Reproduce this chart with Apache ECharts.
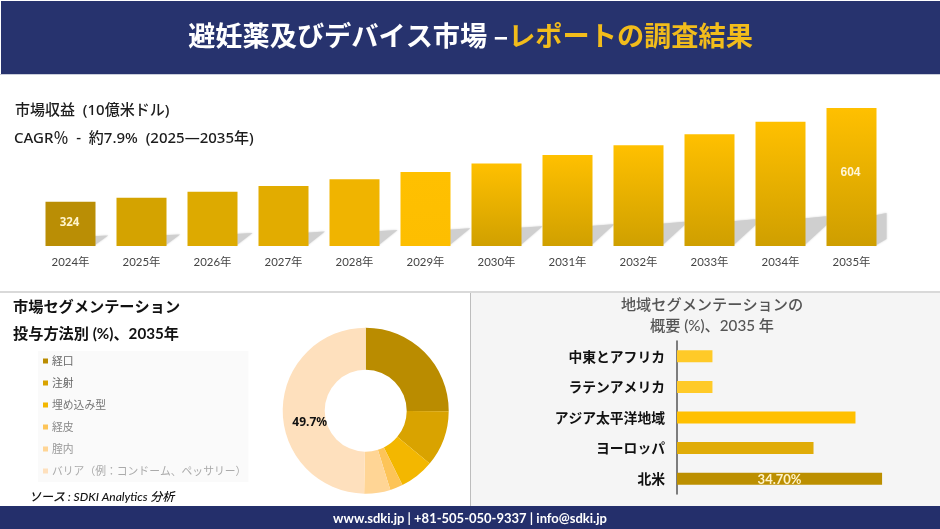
<!DOCTYPE html>
<html><head><meta charset="utf-8">
<style>html,body{margin:0;padding:0;background:#fff}#c{width:940px;height:529px}</style>
<script src="https://cdn.jsdelivr.net/npm/echarts@6/dist/echarts.min.js"></script>
</head><body><div id="c"></div>
<script>
// --- data ---
const years = ['2024年','2025年','2026年','2027年','2028年','2029年','2030年','2031年','2032年','2033年','2034年','2035年'];
const revenue = [324,336,354,371,391,413,438,464,493,526,563,604];
const routes = ['経口','注射','埋め込み型','経皮','腟内','バリア（例：コンドーム、ペッサリー）'];
const routeShare = [25.1,10.9,6.7,2.5,5.1,49.7];
const regions = ['中東とアフリカ','ラテンアメリカ','アジア太平洋地域','ヨーロッパ','北米'];
const regionShare = [6.0,6.0,30.2,23.1,34.7];
// --- styles ---
const barTop = ['#BA8E05','#D4A300','#DDAA00','#E2AC00','#F0B400','#FFC000','#FFC000','#FFC000','#FFC000','#FFC000','#FFC000','#FFC000'];
const barBottom = ['#BA8E05','#D4A300','#DDAA00','#E2AC00','#F0B400','#FDBE00','#D0A000','#D0A000','#CFA000','#CF9F00','#CF9F00','#CE9E00'];
const routeColors = ['#BA8C00','#D9A300','#F3B700','#FDC458','#FFD595','#FEE0BD'];
const routeText = ['#666','#666','#777','#888','#999','#aaa'];
const regionColors = ['#FFCA28','#FFCA28','#FFC000','#E0AC08','#BC8F00'];
const NAVY = '#27336E';
const LAT = 'Lato, "Noto Sans CJK JP", sans-serif';
const JP = '"Noto Sans CJK JP", sans-serif';
const NS = '"Noto Sans", "Noto Sans CJK JP", sans-serif';
const Y_MIN = 192, BAR_W = 50;

const txt = (text,left,top,size,color,weight,extra,family) => Object.assign({
  text,left,top,textStyle:Object.assign({fontFamily:family||LAT,fontSize:size,color,fontWeight:weight,lineHeight:size+6},(extra||{}).ts||{}), padding:0
},extra||{});

const chart = echarts.init(document.getElementById('c'),null,{renderer:'canvas'});
chart.setOption({
  animation:false,
  backgroundColor:'#fff',
  graphic:{elements:[
    {type:'rect',silent:true,shape:{x:1,y:1,width:939,height:73},style:{fill:NAVY}},
    {type:'rect',silent:true,shape:{x:0,y:74,width:940,height:1},style:{fill:'#C9CDDA'}},
    {type:'rect',silent:true,shape:{x:471,y:293,width:469,height:213},style:{fill:'#F5F5F5'}},
    {type:'rect',silent:true,shape:{x:0,y:291,width:940,height:2},style:{fill:'#D9D9D9'}},
    {type:'rect',silent:true,shape:{x:470,y:293,width:1,height:213},style:{fill:'#BDBDBD'}},
    {type:'rect',silent:true,shape:{x:0,y:506,width:940,height:23},style:{fill:'#242F6B'}}
  ]},
  title:[
    {text:'{a|避妊薬及びデバイス市場 –}{b|レポートの調査結果}',left:470.5,top:22,textAlign:'center',padding:0,
     textStyle:{rich:{a:{fontFamily:JP,fontSize:27.2,fontWeight:700,color:'#fff'},b:{fontFamily:JP,fontSize:27.2,fontWeight:700,color:'#F2BC1B'}}}},
    txt('市場収益  (10億米ドル)',15,100,15,'#1c1c1c',500,null,NS),
    txt('CAGR％  -  約7.9%  (2025―2035年)',14,128,15,'#1c1c1c',500,null,NS),
    txt('市場セグメンテーション',13,297,15.2,'#111',700),
    txt('投与方法別 (%)、2035年',13,324,15.2,'#111',700),
    txt('地域セグメンテーションの\n概要 (%)、2035 年',712,295,15.2,'#555',500,{textAlign:'center',ts:{lineHeight:20.6}}),
    txt('ソース : SDKI Analytics 分析',29,488.5,12,'#111',500,{ts:{fontStyle:'italic'}}),
    txt('www.sdki.jp | +81-505-050-9337 | info@sdki.jp',470,509,13,'#fff',700,{textAlign:'center'})
  ],
  legend:{
    orient:'vertical',left:38,top:351,width:211,height:132,
    backgroundColor:'#FAFAFA',padding:[3,2,4,5],
    icon:'rect',itemWidth:5,itemHeight:5,itemGap:8,selectedMode:false,
    textStyle:{fontFamily:JP,fontSize:10.8,lineHeight:14,padding:[0,0,0,-1]},
    data:routes.map((name,i)=>({name,textStyle:{color:routeText[i]}}))
  },
  grid:[
    {left:35,width:852,top:108,height:138},
    {left:677,width:236.4,top:341,height:153}
  ],
  xAxis:[
    {type:'category',gridIndex:0,data:years,axisLine:{show:false},axisTick:{show:false},
     axisLabel:{margin:11,fontFamily:LAT,fontSize:11.4,color:'#444'}},
    {type:'value',gridIndex:1,min:0,max:40,show:false}
  ],
  yAxis:[
    {type:'value',gridIndex:0,min:Y_MIN,max:604,show:false},
    {type:'category',gridIndex:1,inverse:true,data:regions,
     axisLine:{show:true,lineStyle:{color:'#555',width:1.5}},axisTick:{show:false},
     axisLabel:{margin:12,fontFamily:JP,fontSize:13.8,fontWeight:700,color:'#111'}}
  ],
  series:[
    {type:'custom',xAxisIndex:0,yAxisIndex:0,z:1,silent:true,
     data:revenue.map((v,i)=>[i,v]),
     renderItem(params,api){
       const i=api.value(0), top=api.coord([i,api.value(1)]), base=api.coord([i,Y_MIN]);
       const band=api.size([1,0])[0], h=base[1]-top[1];
       const r=top[0]+BAR_W/2, last=i===years.length-1;
       const H=h*0.24, gap=band-BAR_W, d=Math.min(last?10:gap,H+2);
       return {type:'polygon',shape:{points:[
         [r-2,base[1]],[r+d,base[1]-Math.min(d,H)*(last?0.7:1)],[r+d,base[1]-H],[r-2,base[1]-H*0.92]
       ]},style:{fill:'#CFCFCF',shadowBlur:2,shadowColor:'rgba(190,190,190,0.8)'}};
     }},
    {type:'bar',xAxisIndex:0,yAxisIndex:0,z:2,barWidth:BAR_W,
     data:revenue.map((value,i)=>{
       const d={value,itemStyle:{color:new echarts.graphic.LinearGradient(0,0,0,1,[{offset:0,color:barTop[i]},{offset:1,color:barBottom[i]}])}};
       if(i===0) d.label={show:true,position:'inside',offset:[-1,-1],fontFamily:NS,fontSize:11.5,fontWeight:700,color:'#FFF4CC'};
       if(i===years.length-1) d.label={show:true,position:'inside',offset:[-1,-4],fontFamily:'"Liberation Sans"',fontSize:12,fontWeight:700,color:'#FFF6D8'};
       return d;
     })},
    {type:'pie',center:[365.7,410.7],radius:[41,83],startAngle:90,clockwise:true,
     data:routes.map((name,i)=>({name,value:routeShare[i],itemStyle:{color:routeColors[i]},
       label:i===5?{show:true,position:'inside',formatter:'{c}%',offset:[9,12],fontFamily:NS,fontSize:12,fontWeight:700,color:'#111'}:{show:false},
       labelLine:{show:false}})),
     silent:true},
    {type:'bar',xAxisIndex:1,yAxisIndex:1,barWidth:12,
     data:regionShare.map((value,i)=>{
       const d={value,itemStyle:{color:regionColors[i]}};
       if(i===4) d.label={show:true,position:'inside',offset:[0,1],formatter:p=>p.value.toFixed(2)+'%',fontFamily:LAT,fontSize:13,fontWeight:700,color:'#FFF3C8'};
       return d;
     })}
  ]
});
</script></body></html>
